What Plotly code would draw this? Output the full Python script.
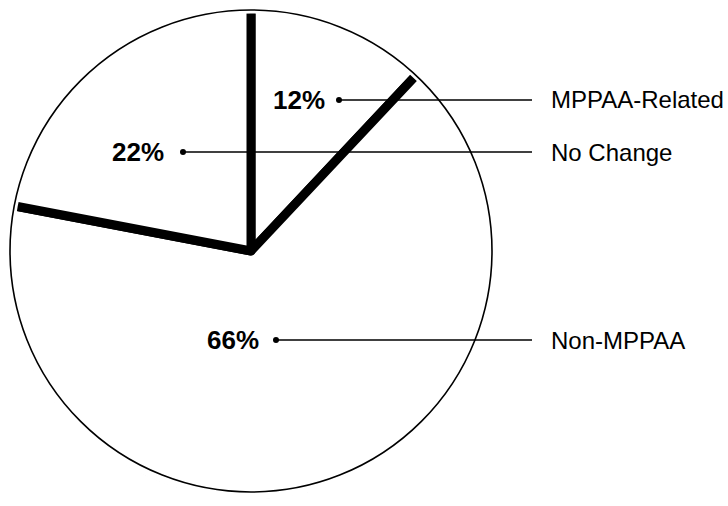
import plotly.graph_objects as go

# ---- data ----
categories = ["MPPAA-Related", "Non-MPPAA", "No Change"]
values = [12, 66, 22]
pct_labels = [f"{v}%" for v in values]

W, H = 728, 506

def px(x):
    return x / W

def py(y):
    return 1 - y / H

# pie geometry (pixels)
CX, CY, R = 251, 251, 243

fig = go.Figure()
fig.add_trace(go.Pie(
    labels=categories,
    values=values,
    sort=False,
    direction="clockwise",
    rotation=0,
    textinfo="none",
    hoverinfo="label+percent",
    marker=dict(colors=["white", "white", "white"],
                line=dict(color="black", width=9)),
    domain=dict(x=[px(CX - R), px(CX + R)], y=[py(CY + R), py(CY - R)]),
    showlegend=False,
))

shapes = []
# thin the outer arc: white mask then thin black outline
shapes.append(dict(type="circle", xref="paper", yref="paper",
                   x0=px(CX - R), x1=px(CX + R), y0=py(CY + R), y1=py(CY - R),
                   line=dict(color="white", width=11), layer="above"))
shapes.append(dict(type="circle", xref="paper", yref="paper",
                   x0=px(CX - R + 2), x1=px(CX + R - 2), y0=py(CY + R - 2), y1=py(CY - R + 2),
                   line=dict(color="black", width=1.6), layer="above"))

# label layout: (percent text x-center, dot x, y, legend label)
label_y = {"MPPAA-Related": 100, "No Change": 152, "Non-MPPAA": 340}
pct_x = {"MPPAA-Related": 299, "No Change": 138, "Non-MPPAA": 233}
dot_x = {"MPPAA-Related": 339, "No Change": 183, "Non-MPPAA": 276}
line_end = 532
name_x = 549

annotations = []
for cat, pct in zip(categories, pct_labels):
    y = label_y[cat]
    shapes.append(dict(type="line", xref="paper", yref="paper",
                       x0=px(dot_x[cat]), x1=px(line_end), y0=py(y), y1=py(y),
                       line=dict(color="black", width=1.5), layer="above"))
    shapes.append(dict(type="circle", xref="paper", yref="paper",
                       x0=px(dot_x[cat] - 3), x1=px(dot_x[cat] + 3),
                       y0=py(y + 3), y1=py(y - 3),
                       fillcolor="black", line=dict(color="black", width=0), layer="above"))
    annotations.append(dict(text=f"<b>{pct}</b>", x=px(pct_x[cat]), y=py(y),
                            xref="paper", yref="paper", xanchor="center", yanchor="middle",
                            showarrow=False,
                            font=dict(family="Liberation Sans, Arial, sans-serif", size=26, color="black")))
    annotations.append(dict(text=cat, x=px(name_x), y=py(y),
                            xref="paper", yref="paper", xanchor="left", yanchor="middle",
                            showarrow=False,
                            font=dict(family="Liberation Sans, Arial, sans-serif", size=24, color="black")))

fig.update_layout(
    width=W, height=H,
    margin=dict(l=0, r=0, t=0, b=0),
    paper_bgcolor="white",
    plot_bgcolor="white",
    shapes=shapes,
    annotations=annotations,
    showlegend=False,
)

fig.write_html("out.html")
